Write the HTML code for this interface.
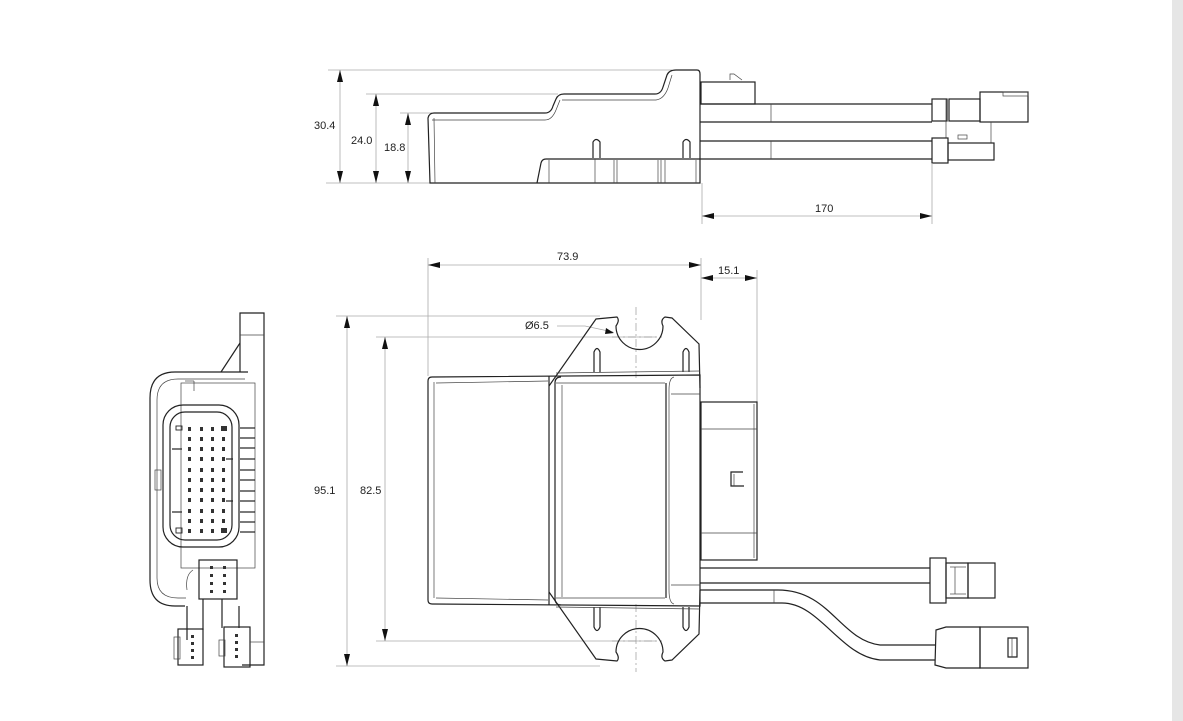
<!DOCTYPE html>
<html><head><meta charset="utf-8"><style>
html,body{margin:0;padding:0;background:#fff;width:1183px;height:721px;overflow:hidden}
svg{display:block}
text{font-family:"Liberation Sans",sans-serif;font-size:11px;fill:#222}
.k{fill:none;stroke:#222;stroke-width:1.2}
.t{fill:none;stroke:#444;stroke-width:0.7}
.d{fill:none;stroke:#aaa;stroke-width:0.8}
.c{fill:none;stroke:#999;stroke-width:0.7;stroke-dasharray:8 3 2 3}
.a{fill:#111}
</style></head><body>
<svg width="1183" height="721" viewBox="0 0 1183 721">
<rect x="1172" y="0" width="11" height="721" fill="#e6e6e6"/>

<!-- ===== SIDE VIEW (top) ===== -->
<line class="d" x1="328" y1="70" x2="672" y2="70"/>
<line class="d" x1="366" y1="94" x2="558" y2="94"/>
<line class="d" x1="400" y1="113" x2="432" y2="113"/>
<line class="d" x1="326" y1="183" x2="430" y2="183"/>
<line class="d" x1="340" y1="70" x2="340" y2="183"/>
<line class="d" x1="376" y1="94" x2="376" y2="183"/>
<line class="d" x1="408" y1="113" x2="408" y2="183"/>
<polygon class="a" points="340,70 337,82 343,82"/><polygon class="a" points="340,183 337,171 343,171"/>
<polygon class="a" points="376,94 373,106 379,106"/><polygon class="a" points="376,183 373,171 379,171"/>
<polygon class="a" points="408,113 405,125 411,125"/><polygon class="a" points="408,183 405,171 411,171"/>
<text x="314" y="129">30.4</text>
<text x="351" y="144">24.0</text>
<text x="384" y="151">18.8</text>
<path class="k" d="M430,183 L428,118 Q429,113 434,113 L545,113 Q551,113 553,106 L556,99 Q558,94 564,94 L655,94 Q661,94 663,87 L667,75 Q669,70 676,70 L697,70 Q700,70 700,74 L700,183 Z"/>
<path class="t" d="M435,183 L434,118 M432,120 L545,120 Q552,120 556,110 L560,100 M562,100 L656,100 Q664,99 668,88 L672,75"/>
<path class="k" d="M537,183 L541,163 Q542,159 546,159 L700,159"/>
<line class="t" x1="549" y1="160" x2="549" y2="183"/>
<path class="k" d="M593,158 L593,142 Q596,137 600,142 L600,158"/>
<path class="k" d="M683,158 L683,142 Q686,137 690,142 L690,158"/>
<line class="t" x1="595" y1="159" x2="595" y2="183"/><line class="t" x1="614" y1="160" x2="614" y2="183"/><line class="t" x1="617" y1="160" x2="617" y2="183"/>
<line class="t" x1="658" y1="160" x2="658" y2="183"/><line class="t" x1="661" y1="160" x2="661" y2="183"/><line class="t" x1="665" y1="160" x2="665" y2="183"/>
<line class="t" x1="696" y1="160" x2="696" y2="183"/>
<rect class="k" x="701" y="82" width="54" height="22"/>
<path class="t" d="M730,80 L730,74 L734,74 L742,80"/>
<line class="k" x1="700" y1="104" x2="932" y2="104"/>
<line class="k" x1="700" y1="122" x2="932" y2="122"/>
<line class="k" x1="700" y1="141" x2="932" y2="141"/>
<line class="k" x1="700" y1="159" x2="932" y2="159"/>
<line class="t" x1="771" y1="104" x2="771" y2="122"/><line class="t" x1="771" y1="141" x2="771" y2="159"/>
<rect class="k" x="932" y="99" width="15" height="22"/>
<line class="t" x1="946" y1="99" x2="946" y2="138"/><line class="t" x1="949" y1="99" x2="949" y2="121"/>
<rect class="k" x="949" y="99" width="31" height="22"/>
<rect class="k" x="980" y="92" width="48" height="30"/>
<rect class="t" x="1003" y="92" width="25" height="4"/>
<line class="t" x1="991" y1="122" x2="991" y2="143"/>
<rect class="k" x="932" y="138" width="16" height="25"/>
<rect class="k" x="948" y="143" width="46" height="17"/>
<rect class="t" x="958" y="135" width="9" height="4"/>
<line class="d" x1="702" y1="183" x2="702" y2="224"/>
<line class="d" x1="932" y1="163" x2="932" y2="224"/>
<line class="d" x1="702" y1="216" x2="932" y2="216"/>
<polygon class="a" points="702,216 714,213 714,219"/><polygon class="a" points="932,216 920,213 920,219"/>
<text x="815" y="212">170</text>

<!-- ===== TOP VIEW (main) ===== -->
<line class="d" x1="428" y1="258" x2="428" y2="376"/>
<line class="d" x1="701" y1="258" x2="701" y2="320"/>
<line class="d" x1="757" y1="270" x2="757" y2="402"/>
<line class="d" x1="428" y1="265" x2="701" y2="265"/>
<polygon class="a" points="428,265 440,262 440,268"/><polygon class="a" points="701,265 689,262 689,268"/>
<text x="557" y="260">73.9</text>
<line class="d" x1="701" y1="278" x2="757" y2="278"/>
<polygon class="a" points="701,278 713,275 713,281"/><polygon class="a" points="757,278 745,275 745,281"/>
<text x="718" y="274">15.1</text>
<line class="d" x1="336" y1="316" x2="600" y2="316"/>
<line class="d" x1="376" y1="337" x2="656" y2="337"/>
<line class="d" x1="376" y1="641" x2="656" y2="641"/>
<line class="d" x1="336" y1="666" x2="600" y2="666"/>
<line class="d" x1="347" y1="316" x2="347" y2="666"/>
<line class="d" x1="385" y1="337" x2="385" y2="641"/>
<polygon class="a" points="347,316 344,328 350,328"/><polygon class="a" points="347,666 344,654 350,654"/>
<polygon class="a" points="385,337 382,349 388,349"/><polygon class="a" points="385,641 382,629 388,629"/>
<text x="314" y="494">95.1</text>
<text x="360" y="494">82.5</text>
<text x="525" y="329">Ø6.5</text>
<path class="d" d="M557,326 L585,326 L613,332"/>
<polygon class="a" points="614,333 606,328 605,334"/>
<line class="c" x1="636" y1="307" x2="636" y2="378"/>
<line class="c" x1="612" y1="337" x2="662" y2="337"/>
<line class="c" x1="636" y1="604" x2="636" y2="672"/>
<line class="c" x1="612" y1="641" x2="662" y2="641"/>
<path class="k" d="M549,386 L596,319 L617,317 Q620,320 616,326 A20,20 0 1 0 663,326 Q660,320 665,317 L672,318 L699,344 L700,388"/>
<path class="k" d="M549,592 L596,659 L617,661 Q620,658 616,652 A20,20 0 1 1 663,652 Q660,658 665,661 L672,660 L699,634 L700,590"/>
<path class="k" d="M594,372 L594,352 Q597,345 600,352 L600,372"/>
<path class="k" d="M683,372 L683,352 Q686,345 689,352 L689,372"/>
<path class="k" d="M594,607 L594,627 Q597,634 600,627 L600,607"/>
<path class="k" d="M683,607 L683,627 Q686,634 689,627 L689,607"/>
<line class="t" x1="556" y1="373" x2="700" y2="371"/>
<line class="t" x1="556" y1="607" x2="700" y2="609"/>
<path class="k" d="M432,377 L700,375 L700,606 L432,604 Q428,604 428,600 L428,381 Q428,377 432,377 Z" fill="#fff"/>
<line class="t" x1="436" y1="383" x2="548" y2="381"/><line class="t" x1="436" y1="598" x2="548" y2="600"/>
<line class="t" x1="434" y1="382" x2="434" y2="598"/>
<line class="k" x1="549" y1="376" x2="549" y2="605"/>
<path class="k" d="M561,377 Q555,377 555,383 L555,598 Q555,605 561,605"/>
<line class="t" x1="562" y1="385" x2="562" y2="597"/>
<line class="t" x1="556" y1="383" x2="665" y2="383"/><line class="t" x1="556" y1="598" x2="665" y2="598"/>
<line class="k" x1="666" y1="383" x2="666" y2="598"/>
<path class="t" d="M674,377 Q669,378 669,390 L669,590 Q669,603 674,604"/>
<line class="t" x1="671" y1="394" x2="700" y2="394"/><line class="t" x1="671" y1="585" x2="700" y2="585"/>
<rect class="k" x="701" y="402" width="56" height="158"/>
<line class="t" x1="701" y1="429" x2="757" y2="429"/><line class="t" x1="701" y1="533" x2="757" y2="533"/>
<line class="t" x1="754" y1="404" x2="754" y2="558"/>
<path class="k" d="M743,472 L731,472 L731,486 L744,486"/>
<line class="t" x1="734" y1="474" x2="734" y2="486"/>
<line class="k" x1="700" y1="568" x2="930" y2="568"/>
<line class="k" x1="700" y1="583" x2="930" y2="583"/>
<path class="k" d="M700,590 L778,590 C830,590 840,640 880,645 L935,645"/>
<path class="k" d="M700,603 L782,603 C820,603 840,656 880,660 L935,660"/>
<line class="t" x1="774" y1="590" x2="774" y2="603"/>
<rect class="k" x="930" y="558" width="16" height="45"/>
<rect class="k" x="946" y="563" width="22" height="35"/>
<line class="t" x1="950" y1="567" x2="966" y2="567"/><line class="t" x1="950" y1="594" x2="966" y2="594"/>
<line class="t" x1="955" y1="567" x2="955" y2="594"/>
<rect class="k" x="968" y="563" width="27" height="35"/>
<path class="k" d="M936,630 L935,665 L946,668 L980,668 L980,627 L946,627 Z"/>
<rect class="k" x="980" y="627" width="48" height="41"/>
<path class="k" d="M1017,638 L1008,638 L1008,657 L1017,657 Z"/>
<line class="t" x1="1012" y1="638" x2="1012" y2="657"/>

<!-- ===== END VIEW (left) ===== -->
<path class="k" d="M240,372 L240,313 L264,313 L264,665 L242,665"/>
<line class="t" x1="240" y1="335" x2="264" y2="335"/>
<path class="k" d="M240,343 L221,372"/>
<path class="k" d="M248,372 L175,372 Q150,372 150,398 L150,580 Q150,606 175,606 L185,606"/>
<path class="t" d="M245,379 L178,379 Q157,379 157,400 L157,578 Q157,598 178,598 L186,598"/>
<rect class="t" x="155" y="470" width="6" height="20"/>
<rect class="t" x="181" y="383" width="74" height="185"/>
<rect class="k" x="163" y="405" width="76" height="142" rx="20" fill="#fff"/>
<rect class="k" x="170" y="412" width="62" height="128" rx="15"/>
<line class="t" x1="194" y1="381" x2="194" y2="391"/><line class="t" x1="185" y1="381" x2="194" y2="381"/>
<g class="k" stroke-width="1.2">
<line x1="240" y1="428" x2="255" y2="428"/><line x1="240" y1="438" x2="255" y2="438"/><line x1="240" y1="448" x2="255" y2="448"/>
<line x1="240" y1="459" x2="255" y2="459"/><line x1="240" y1="470" x2="255" y2="470"/><line x1="240" y1="480" x2="255" y2="480"/>
<line x1="240" y1="491" x2="255" y2="491"/><line x1="240" y1="501" x2="255" y2="501"/><line x1="240" y1="512" x2="255" y2="512"/>
<line x1="240" y1="522" x2="255" y2="522"/><line x1="240" y1="532" x2="255" y2="532"/>
</g>
<line class="k" x1="172" y1="449" x2="182" y2="449"/><line class="k" x1="172" y1="512" x2="182" y2="512"/>
<line class="k" x1="226" y1="459" x2="233" y2="459"/><line class="k" x1="226" y1="501" x2="233" y2="501"/>
<g fill="none" stroke="#222" stroke-width="0.9">
<rect x="176" y="426" width="6" height="4"/><rect x="176" y="528" width="6" height="5"/>
</g>
<rect x="221" y="426" width="6" height="5" fill="#333"/><rect x="221" y="528" width="6" height="5" fill="#333"/>
<g fill="#333">
<rect x="188" y="427" width="3" height="4"/><rect x="200" y="427" width="3" height="4"/><rect x="211" y="427" width="3" height="4"/>
<rect x="188" y="437" width="3" height="4"/><rect x="200" y="437" width="3" height="4"/><rect x="211" y="437" width="3" height="4"/><rect x="222" y="437" width="3" height="4"/>
<rect x="188" y="447" width="3" height="4"/><rect x="200" y="447" width="3" height="4"/><rect x="211" y="447" width="3" height="4"/><rect x="222" y="447" width="3" height="4"/>
<rect x="188" y="457" width="3" height="4"/><rect x="200" y="457" width="3" height="4"/><rect x="211" y="457" width="3" height="4"/><rect x="222" y="457" width="3" height="4"/>
<rect x="188" y="468" width="3" height="4"/><rect x="200" y="468" width="3" height="4"/><rect x="211" y="468" width="3" height="4"/><rect x="222" y="468" width="3" height="4"/>
<rect x="188" y="478" width="3" height="4"/><rect x="200" y="478" width="3" height="4"/><rect x="211" y="478" width="3" height="4"/><rect x="222" y="478" width="3" height="4"/>
<rect x="188" y="488" width="3" height="4"/><rect x="200" y="488" width="3" height="4"/><rect x="211" y="488" width="3" height="4"/><rect x="222" y="488" width="3" height="4"/>
<rect x="188" y="498" width="3" height="4"/><rect x="200" y="498" width="3" height="4"/><rect x="211" y="498" width="3" height="4"/><rect x="222" y="498" width="3" height="4"/>
<rect x="188" y="509" width="3" height="4"/><rect x="200" y="509" width="3" height="4"/><rect x="211" y="509" width="3" height="4"/><rect x="222" y="509" width="3" height="4"/>
<rect x="188" y="519" width="3" height="4"/><rect x="200" y="519" width="3" height="4"/><rect x="211" y="519" width="3" height="4"/><rect x="222" y="519" width="3" height="4"/>
<rect x="188" y="529" width="3" height="4"/><rect x="200" y="529" width="3" height="4"/><rect x="211" y="529" width="3" height="4"/>
</g>
<rect class="k" x="199" y="560" width="38" height="39" fill="#fff"/>
<g fill="#333"><rect x="210" y="566" width="3" height="3"/><rect x="223" y="566" width="3" height="3"/><rect x="210" y="574" width="3" height="3"/><rect x="223" y="574" width="3" height="3"/><rect x="210" y="582" width="3" height="3"/><rect x="223" y="582" width="3" height="3"/><rect x="210" y="590" width="3" height="3"/><rect x="223" y="590" width="3" height="3"/></g>
<path class="k" d="M187,606 L187,640 M203,599 L203,630 M222,599 L222,628 M239,606 L239,628"/>
<path class="t" d="M193,570 Q185,575 187,590"/>
<rect class="k" x="178" y="629" width="25" height="36" fill="#fff"/>
<rect class="t" x="174" y="637" width="6" height="22"/>
<g fill="#333"><rect x="191" y="635" width="3" height="3"/><rect x="191" y="642" width="3" height="3"/><rect x="191" y="649" width="3" height="3"/><rect x="191" y="656" width="3" height="3"/></g>
<rect class="k" x="224" y="627" width="26" height="40" fill="#fff"/>
<rect class="t" x="219" y="640" width="6" height="16"/>
<g fill="#333"><rect x="235" y="634" width="3" height="3"/><rect x="235" y="641" width="3" height="3"/><rect x="235" y="648" width="3" height="3"/><rect x="235" y="655" width="3" height="3"/></g>
<line class="t" x1="250" y1="642" x2="264" y2="642"/>
</svg>
</body></html>
